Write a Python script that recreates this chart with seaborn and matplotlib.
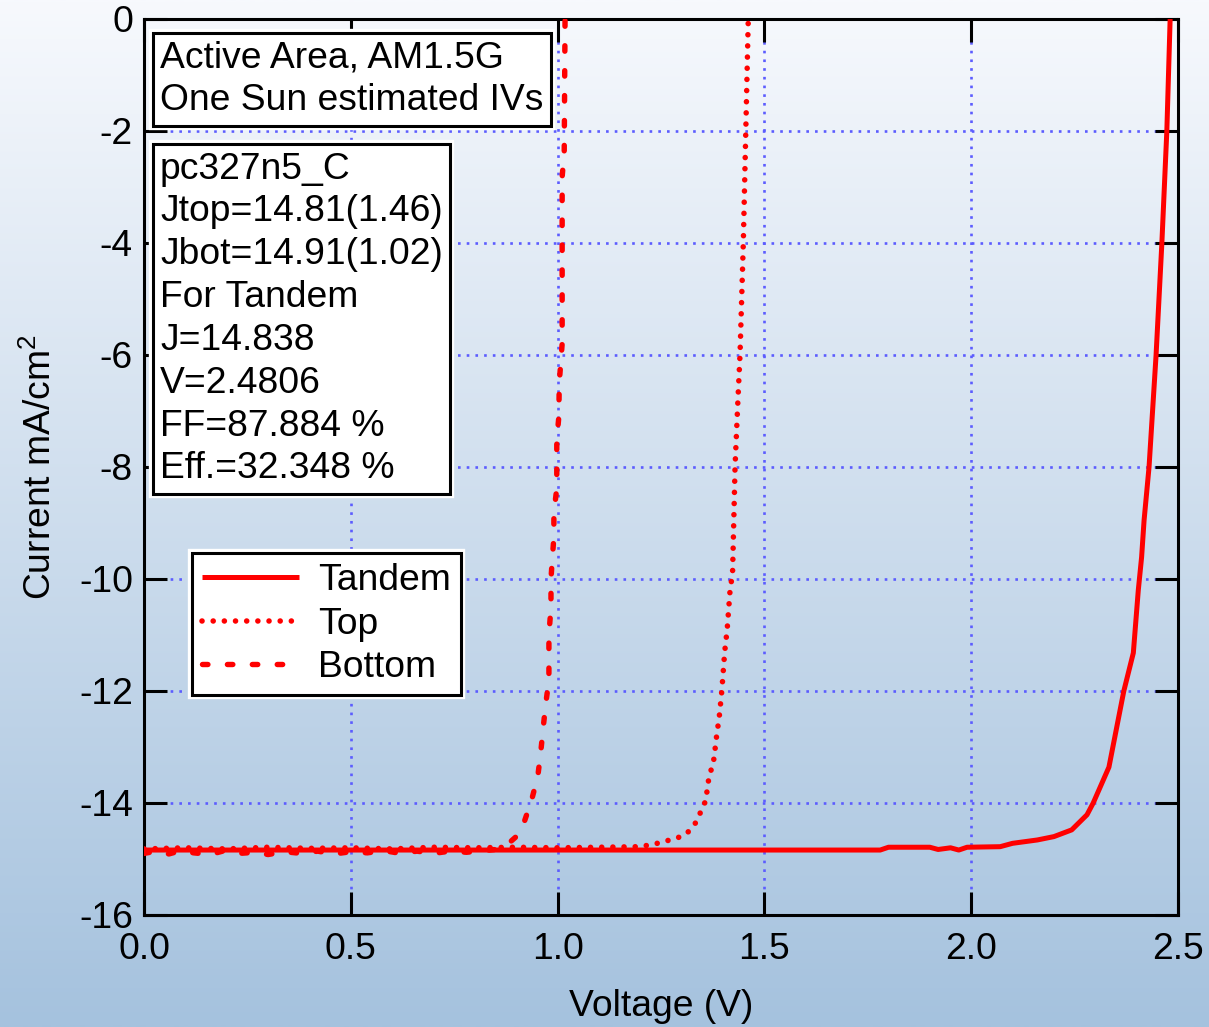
import numpy as np
import pandas as pd
import matplotlib
matplotlib.use("Agg")
import matplotlib.pyplot as plt
import matplotlib.patheffects as pe
import seaborn as sns

# ---- IV data (voltage in V, current density in mA/cm^2) ----
tandem_v = [0.00, 0.25, 0.50, 0.75, 1.00, 1.25, 1.50, 1.78, 1.80, 1.90, 1.92,
            1.95, 1.97, 1.99, 2.07, 2.10, 2.16, 2.20, 2.243, 2.28, 2.295, 2.333,
            2.369, 2.392, 2.404, 2.412, 2.418, 2.430, 2.447, 2.461, 2.473, 2.481]
tandem_j = [-14.84, -14.84, -14.84, -14.84, -14.84, -14.84, -14.84, -14.84, -14.79, -14.79, -14.83,
            -14.80, -14.84, -14.79, -14.78, -14.72, -14.66, -14.60, -14.48, -14.21, -14.00, -13.36,
            -12.00, -11.32, -10.20, -9.61, -8.95, -8.00, -6.00, -4.00, -2.00, 0.00]

top_v = [0.00, 0.10, 0.20, 0.30, 0.40, 0.50, 0.60, 0.70, 0.80, 0.90, 1.00, 1.10, 1.20,
         1.236, 1.261, 1.288, 1.313, 1.333, 1.346, 1.358, 1.365, 1.378, 1.384, 1.391,
         1.397, 1.404, 1.410, 1.417, 1.423, 1.429, 1.436, 1.441, 1.449, 1.455, 1.461]
top_j = [-14.82, -14.80, -14.82, -14.79, -14.81, -14.80, -14.82, -14.79, -14.80, -14.79, -14.80, -14.79, -14.78,
         -14.73, -14.68, -14.63, -14.54, -14.36, -14.16, -13.96, -13.59, -13.21, -12.83, -12.45,
         -12.00, -11.30, -10.90, -10.20, -9.90, -8.00, -6.80, -6.00, -4.00, -2.00, 0.00]

bottom_v = [0.00, 0.03, 0.06, 0.09, 0.12, 0.16, 0.19, 0.23, 0.27, 0.30, 0.34, 0.38,
            0.42, 0.46, 0.50, 0.54, 0.58, 0.62, 0.66, 0.70, 0.74, 0.78, 0.82, 0.85,
            0.877, 0.900, 0.917, 0.937, 0.952, 0.959, 0.965, 0.971, 0.979, 0.979,
            0.984, 0.984, 0.987, 0.991, 0.991, 0.998, 0.998, 1.003, 1.004, 1.011,
            1.011, 1.016, 1.018]
bottom_j = [-14.90, -14.86, -14.91, -14.85, -14.89, -14.92, -14.86, -14.90, -14.88, -14.92, -14.87, -14.90,
            -14.86, -14.91, -14.87, -14.89, -14.85, -14.90, -14.86, -14.90, -14.86, -14.88, -14.85, -14.83,
            -14.75, -14.60, -14.39, -13.95, -13.53, -13.11, -12.67, -12.25, -11.80, -11.00,
            -10.50, -10.00, -9.66, -9.25, -8.82, -8.38, -7.52, -7.10, -6.50, -5.80,
            -2.82, -2.38, 0.00]

series_names = ["Tandem", "Top", "Bottom"]

info_title = "Active Area, AM1.5G\nOne Sun estimated IVs"
info_lines = ["pc327n5_C", "Jtop=14.81(1.46)", "Jbot=14.91(1.02)", "For Tandem",
              "J=14.838", "V=2.4806", "FF=87.884 %", "Eff.=32.348 %"]

x_ticks = [0.0, 0.5, 1.0, 1.5, 2.0, 2.5]
x_ticklabels = ["0.0", "0.5", "1.0", "1.5", "2.0", "2.5"]
y_ticks = [-16, -14, -12, -10, -8, -6, -4, -2, 0]

# ---- style ----
sns.set_style("ticks")
plt.rcParams["font.family"] = ["Liberation Sans", "DejaVu Sans"]
plt.rcParams["mathtext.fontset"] = "custom"
plt.rcParams["mathtext.rm"] = "Liberation Sans"
plt.rcParams["axes.unicode_minus"] = False
plt.rcParams["text.color"] = "black"
plt.rcParams["axes.labelcolor"] = "black"

FS = 26.8
RED = "#ff0000"

fig = plt.figure(figsize=(12.09, 10.27), dpi=100)

# gradient backdrop behind the whole figure
bg = fig.add_axes([0, 0, 1, 1], zorder=-10)
grad = np.linspace(0, 1, 256)[:, None]
top_rgb = np.array([247, 249, 253]) / 255.0
bot_rgb = np.array([165, 194, 222]) / 255.0
img = top_rgb[None, None, :] * (1 - grad[:, :, None]) + bot_rgb[None, None, :] * grad[:, :, None]
bg.imshow(img, aspect="auto", extent=[0, 1, 0, 1], interpolation="bilinear")
bg.set_axis_off()

ax = fig.add_axes([144 / 1209, 1 - 915 / 1027, (1178 - 144) / 1209, (915 - 19) / 1027])
ax.set_facecolor("none")

frames = []
for name, v, j in [("Tandem", tandem_v, tandem_j), ("Top", top_v, top_j), ("Bottom", bottom_v, bottom_j)]:
    frames.append(pd.DataFrame({"Voltage": v, "Current": j, "Cell": name}))
df = pd.concat(frames, ignore_index=True)

line_styles = {
    "Tandem": dict(linestyle="-", lw=3.6, solid_capstyle="butt"),
    "Top": dict(linestyle=(0, (0.01, 2.0)), lw=4.0, dash_capstyle="round"),
    "Bottom": dict(linestyle=(0, (1.0, 3.6)), lw=3.9, dash_capstyle="round"),
}
for name in series_names:
    sub = df[df["Cell"] == name]
    sns.lineplot(data=sub, x="Voltage", y="Current", ax=ax, color=RED, sort=False,
                 estimator=None, label=name, zorder=3, **line_styles[name])

ax.set_xlim(0, 2.5)
ax.set_ylim(-16, 0)
ax.set_xticks(x_ticks)
ax.set_xticklabels(x_ticklabels)
ax.set_yticks(y_ticks)
ax.set_yticklabels([str(t) for t in y_ticks])

ax.grid(True, color="#5c5cff", linestyle=(0, (1, 2.3)), linewidth=1.9, zorder=1)
ax.set_axisbelow(True)
for s in ax.spines.values():
    s.set_visible(True)
    s.set_linewidth(2.2)
    s.set_color("black")
ax.tick_params(axis="both", which="major", direction="in", length=16.5, width=2.2,
               top=True, right=True, labelsize=FS, colors="black")
ax.tick_params(axis="y", pad=8)
ax.tick_params(axis="x", pad=12)

ax.set_xlabel("Voltage (V)", fontsize=FS, labelpad=16)
ax.set_ylabel("Current mA/cm$^2$", fontsize=FS, labelpad=14)

halo = [pe.Stroke(linewidth=6, foreground="white"), pe.Normal()]

box_kw = dict(boxstyle="square,pad=0.2", fc="white", ec="black", lw=2.2)
t1 = ax.text(0.0155, 0.976, info_title, transform=ax.transAxes, ha="left", va="top",
             fontsize=FS, linespacing=1.29, bbox=box_kw, zorder=5)
t2 = ax.text(0.0155, 0.852, "\n".join(info_lines), transform=ax.transAxes, ha="left", va="top",
             fontsize=FS, linespacing=1.29, bbox=box_kw, zorder=5)
for t in (t1, t2):
    t.get_bbox_patch().set_path_effects(halo)

leg = ax.legend(loc="upper left", bbox_to_anchor=(0.0464, 0.404), borderaxespad=0,
                fontsize=FS, frameon=True, fancybox=False, framealpha=1,
                edgecolor="black", handlelength=2.6, handletextpad=0.5,
                labelspacing=0.22, borderpad=0.28)
leg.get_frame().set_linewidth(2.2)
leg.get_frame().set_path_effects(halo)
leg.set_zorder(6)

fig.savefig("out.png", dpi=100)
